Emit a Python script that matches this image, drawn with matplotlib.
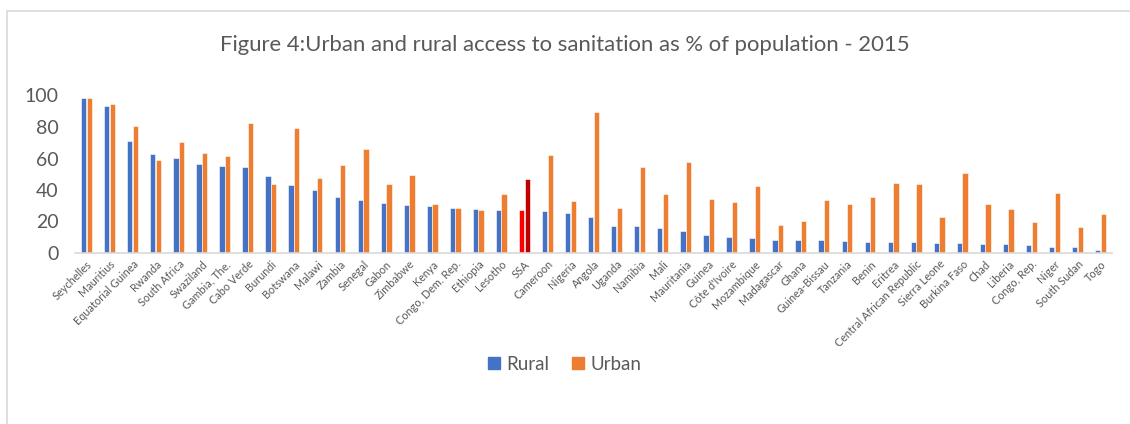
"""Urban and rural access to sanitation, 2015 (Figure 4)."""
import matplotlib

matplotlib.use("Agg")
import matplotlib.pyplot as plt
import numpy as np
from matplotlib.patches import Patch, Rectangle

plt.rcParams["font.family"] = ["Lato", "DejaVu Sans"]

countries = [
    "Seychelles", "Mauritius", "Equatorial Guinea", "Rwanda", "South Africa", "Swaziland",
    "Gambia, The.", "Cabo Verde", "Burundi", "Botswana", "Malawi", "Zambia", "Senegal",
    "Gabon", "Zimbabwe", "Kenya", "Congo, Dem. Rep.", "Ethiopia", "Lesotho", "SSA",
    "Cameroon", "Nigeria", "Angola", "Uganda", "Namibia", "Mali", "Mauritania", "Guinea",
    "Côte d'Ivoire", "Mozambique", "Madagascar", "Ghana", "Guinea-Bissau", "Tanzania",
    "Benin", "Eritrea", "Central African Republic", "Sierra Leone", "Burkina Faso", "Chad",
    "Liberia", "Congo, Rep.", "Niger", "South Sudan", "Togo",
]
rural = [
    98.5, 93.1, 71.2, 63.1, 60.6, 56.3, 55.2, 54.4, 48.6, 43.4, 39.8, 35.8, 33.9,
    31.5, 30.7, 29.6, 28.5, 28.1, 27.5, 27.0, 26.7, 25.6, 22.6, 17.1, 16.9, 15.8, 13.7,
    11.6, 9.9, 9.7, 8.2, 8.2, 8.0, 7.8, 6.7, 6.7, 6.7, 6.5, 6.3, 5.9, 5.4, 5.2, 4.1,
    4.1, 2.2,
]
urban = [
    98.5, 94.4, 80.6, 58.9, 70.2, 63.6, 61.9, 82.3, 44.1, 79.3, 47.6, 55.9, 65.9,
    43.6, 49.4, 31.1, 28.3, 27.0, 37.3, 46.8, 62.3, 32.8, 89.5, 28.3, 54.9, 37.7, 57.8,
    34.1, 32.6, 42.4, 18.0, 20.1, 33.4, 31.3, 35.8, 44.7, 43.6, 22.6, 50.6, 31.3, 27.7,
    19.9, 37.9, 16.2, 24.5,
]
yticks = [0, 20, 40, 60, 80, 100]

BLUE = "#4472C4"
ORANGE = "#ED7D31"
TEXT = "#595959"


def main() -> None:
    fig = plt.figure(figsize=(11.3, 4.24), dpi=100)
    # chart frame (only left and top edges fall inside the crop)
    fig.patches.append(Rectangle((7 / 1130, -0.1), 1.2, (424 - 11) / 424 + 0.1,
                                 transform=fig.transFigure, fill=False,
                                 edgecolor="#D9D9D9", linewidth=1.2))
    ax = fig.add_axes([75 / 1130, (424 - 253) / 424, 1037 / 1130, (253 - 95.5) / 424])

    x = np.arange(len(countries))
    rural_colors = [("#FF0000" if c == "SSA" else BLUE) for c in countries]
    urban_colors = [("#C00000" if c == "SSA" else ORANGE) for c in countries]
    ax.bar(x - 0.122, rural, width=0.23, color=rural_colors, edgecolor="white", linewidth=0.4)
    ax.bar(x + 0.122, urban, width=0.23, color=urban_colors, edgecolor="white", linewidth=0.4)

    ax.set_xlim(-0.5, len(countries) - 0.5)
    ax.set_ylim(0, 100)
    ax.set_yticks(yticks)
    ax.set_yticklabels([str(v) for v in yticks], fontsize=14, color=TEXT)
    ax.set_xticks(x)
    ax.set_xticklabels(countries, rotation=45, ha="right", rotation_mode="anchor",
                       fontsize=7.8, color=TEXT)
    ax.tick_params(axis="both", length=0)
    ax.tick_params(axis="y", pad=12)
    ax.tick_params(axis="x", pad=4)
    for side in ("top", "right", "left"):
        ax.spines[side].set_visible(False)
    ax.spines["bottom"].set_color("#D9D9D9")
    ax.spines["bottom"].set_linewidth(1.2)

    fig.text(0.5, (424 - 45) / 424, "Figure 4:Urban and rural access to sanitation as % of population - 2015",
             ha="center", va="center", fontsize=15.9, color=TEXT)

    handles = [Patch(color=BLUE, label="Rural"), Patch(color=ORANGE, label="Urban")]
    fig.legend(handles=handles, loc="center", bbox_to_anchor=(0.5, (424 - 364) / 424), ncol=2,
               frameon=False, fontsize=13.5, labelcolor=TEXT, handlelength=0.65, handleheight=0.65,
               handletextpad=0.35, columnspacing=1.2)

    fig.savefig("out.png", dpi=100)
    plt.close(fig)


if __name__ == "__main__":
    main()
